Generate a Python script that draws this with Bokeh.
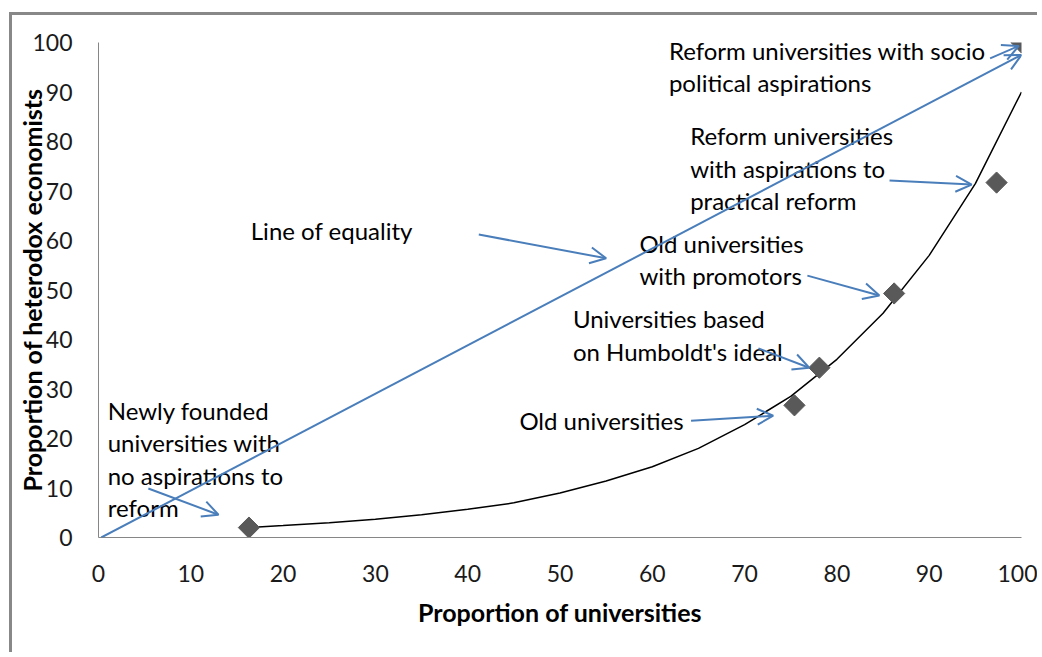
from bokeh.plotting import figure
from bokeh.models import Range1d, Arrow, OpenHead, ColumnDataSource, FixedTicker
from bokeh.core.properties import value
from bokeh.embed import file_html
from bokeh.resources import INLINE
import numpy as np

# ---- data ----
uni_share = [16.3, 75.4, 78.1, 86.2, 97.3, 100.0]      # proportion of universities
het_share = [2.0, 26.7, 34.3, 49.3, 71.7, 100.0]       # proportion of heterodox economists

trend_x = [16.3, 20, 25, 30, 35, 40, 45, 50, 55, 60, 65, 70, 75, 80, 85, 90, 95, 100]
trend_y = [2.0, 2.4, 3.0, 3.7, 4.6, 5.7, 7.0, 9.0, 11.4, 14.3, 18.0, 22.8, 28.5, 36.0, 45.3, 57.0, 71.5, 90.0]

x_ticks = [0, 10, 20, 30, 40, 50, 60, 70, 80, 90, 100]
y_ticks = [0, 10, 20, 30, 40, 50, 60, 70, 80, 90, 100]

labels = [
    "Reform universities with socio\npolitical aspirations",
    "Reform universities\nwith aspirations to\npractical reform",
    "Line of equality",
    "Old universities\nwith promotors",
    "Universities based\non Humboldt's ideal",
    "Old universities",
    "Newly founded\nuniversities with\nno aspirations to\nreform",
]
label_x = [61.8, 64.1, 16.5, 58.6, 51.4, 45.6, 1.0]
label_y = [98.4, 81.2, 62.0, 59.4, 44.2, 23.6, 25.7]

arrow_x0 = [41.2, 85.7, 76.8, 71.5, 64.2, 5.4, 96.6, 0.3]
arrow_y0 = [61.2, 72.1, 52.9, 38.2, 23.6, 9.9, 96.8, 0.0]
arrow_x1 = [55.0, 94.6, 84.6, 77.0, 73.1, 13.0, 99.7, 100.0]
arrow_y1 = [56.4, 71.3, 48.9, 34.3, 24.6, 4.6, 99.3, 97.5]

# ---- styling ----
FONT = "Lato"
BLUE = "#4a7ebb"
LINE_GAP = 6.57  # data units between text lines

p = figure(width=1028, height=640, output_backend="svg", toolbar_location=None,
           x_range=Range1d(0, 100), y_range=Range1d(0, 100),
           min_border_left=86, min_border_right=19, min_border_top=27, min_border_bottom=118,
           background_fill_color="white", border_fill_color="white",
           styles={"margin-left": "9px", "margin-top": "12px",
                   "border-left": "3px solid #888888", "border-top": "3px solid #888888"})
p.outline_line_color = None
p.grid.visible = False

for ax in (p.xaxis[0], p.yaxis[0]):
    ax.axis_line_color = "#868686"
    ax.axis_line_width = 1
    ax.major_tick_line_color = None
    ax.minor_tick_line_color = None
    ax.major_tick_out = 0
    ax.major_tick_in = 0
    ax.minor_tick_out = 0
    ax.minor_tick_in = 0
    ax.major_label_text_font = FONT
    ax.major_label_text_font_size = "23px"
    ax.major_label_text_color = "#1a1a1a"
    ax.axis_label_text_font = FONT
    ax.axis_label_text_font_size = "25px"
    ax.axis_label_text_font_style = "bold"
    ax.axis_label_text_color = "#000000"

p.xaxis[0].ticker = FixedTicker(ticks=x_ticks)
p.yaxis[0].ticker = FixedTicker(ticks=y_ticks)
p.xaxis[0].axis_label = "Proportion of universities"
p.yaxis[0].axis_label = "Proportion of heterodox economists"
p.xaxis[0].major_label_standoff = 27
p.xaxis[0].axis_label_standoff = 12
p.yaxis[0].major_label_standoff = 26
p.yaxis[0].axis_label_standoff = -18

# trend line
p.line(trend_x, trend_y, line_color="black", line_width=1.5)

# data points (diamonds)
p.scatter(uni_share, het_share, marker="square", angle=np.pi / 4, size=15,
          fill_color="#595959", line_color="#595959")

# arrows
arr_src = ColumnDataSource(dict(x0=arrow_x0, y0=arrow_y0, x1=arrow_x1, y1=arrow_y1))
p.add_layout(Arrow(end=OpenHead(size=16, line_color=BLUE, line_width=2),
                   x_start="x0", y_start="y0", x_end="x1", y_end="y1",
                   line_color=BLUE, line_width=2, source=arr_src))

# annotation texts (each line placed separately)
tx, ty, tt = [], [], []
for lab, lx, ly in zip(labels, label_x, label_y):
    for i, line in enumerate(lab.split("\n")):
        tx.append(lx)
        ty.append(ly - i * LINE_GAP)
        tt.append(line)
p.text(tx, ty, text=tt, text_font=value(FONT), text_font_size="24px",
       text_baseline="middle", text_align="left", text_color="#000000")

open("out.html", "w").write(file_html(p, INLINE))
